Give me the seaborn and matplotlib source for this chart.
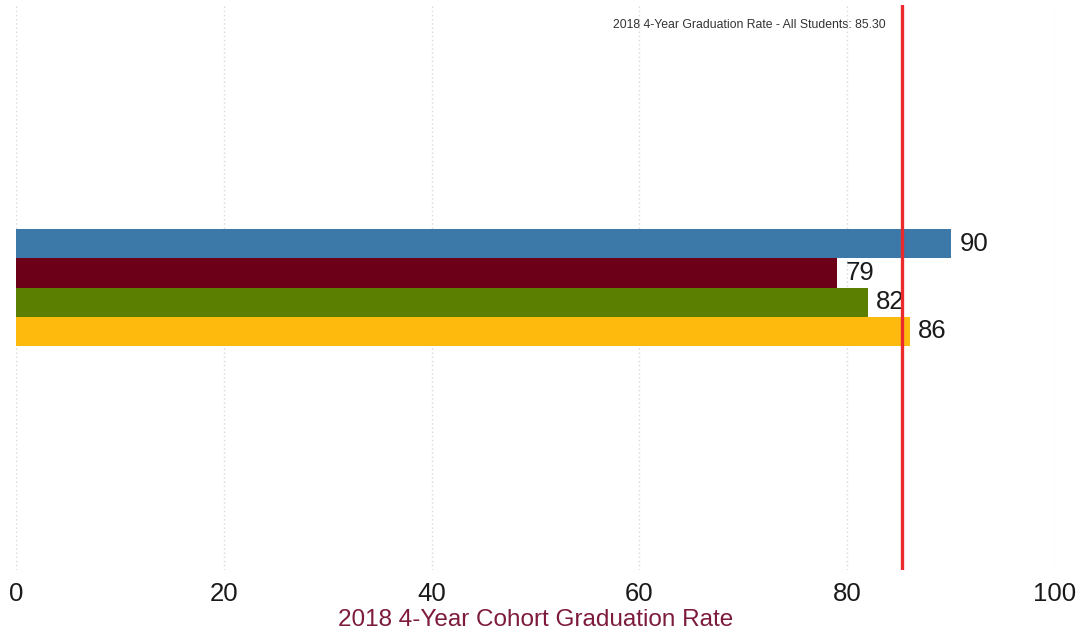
import matplotlib
matplotlib.use("Agg")
import matplotlib.pyplot as plt
import seaborn as sns
import pandas as pd

# Data
groups = ["Group 1", "Group 2", "Group 3", "Group 4"]
rates = [90, 79, 82, 86]
colors = ["#3C79A9", "#6B0018", "#5B7F00", "#FEBB0E"]
category = ["2018"] * 4
all_students_rate = 85.30
x_ticks = [0, 20, 40, 60, 80, 100]
x_label = "2018 4-Year Cohort Graduation Rate"
ref_label = "2018 4-Year Graduation Rate - All Students: 85.30"

df = pd.DataFrame({"cat": category, "group": groups, "rate": rates})

sns.set_theme(style="white")
plt.rcParams["font.family"] = ["Liberation Sans", "DejaVu Sans"]

fig = plt.figure(figsize=(10.81, 6.31), dpi=100)
ax = fig.add_axes([0.0148, 0.0967, 0.9612, 0.8953])

sns.barplot(data=df, y="cat", x="rate", hue="group", palette=colors,
            orient="h", width=0.8, saturation=1, legend=False, ax=ax,
            linewidth=0)

for c in ax.containers:
    ax.bar_label(c, labels=[f"{v:.0f}" for v in c.datavalues], padding=6,
                 fontsize=18.5, color="#1a1a1a")

ax.axvline(all_students_rate, color="#EA2A2C", lw=2.4, zorder=5)
ax.text(all_students_rate - 1.6, 0.975, ref_label, transform=ax.get_xaxis_transform(),
        ha="right", va="top", fontsize=8.8, color="#333333")

ax.set_xlim(0, 100)
ax.set_ylim(1.93, -1.93)
ax.set_xticks(x_ticks)
ax.set_xticklabels([str(t) for t in x_ticks], fontsize=18.5, color="#1a1a1a")
ax.tick_params(axis="x", length=0, pad=9)
ax.set_yticks([])
ax.set_ylabel("")
ax.set_xlabel(x_label, fontsize=17.5, color="#7D1B3B", labelpad=0)
ax.xaxis.label.set_va("baseline")
ax.xaxis.set_label_coords(0.5, -0.099)

ax.grid(axis="x", color="#d8d8d8", linestyle=(0, (1, 2)), lw=1.0)
ax.set_axisbelow(True)
for s in ax.spines.values():
    s.set_visible(False)

fig.savefig("out.png", dpi=100)
